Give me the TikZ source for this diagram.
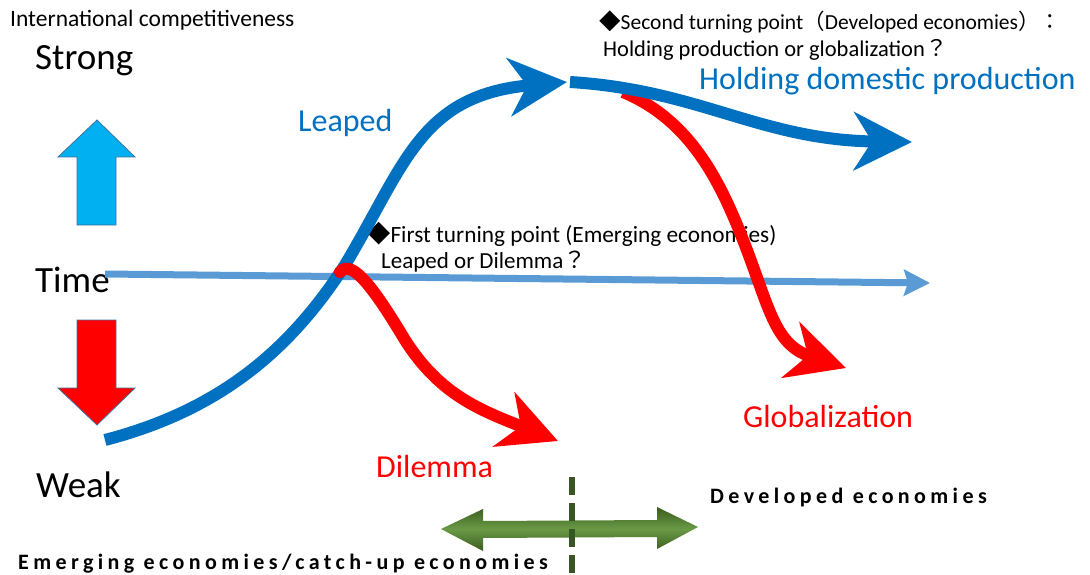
\documentclass[tikz,border=0pt]{standalone}
\usepackage{fontspec}
\setmainfont{Carlito}
\newfontfamily\cjk{Noto Sans CJK JP}
\newfontfamily\spaced[LetterSpace=20]{Carlito}
\usetikzlibrary{arrows.meta,positioning}

\definecolor{leapblue}{HTML}{0070C0}
\definecolor{timeblue}{HTML}{5B9BD5}
\definecolor{upblue}{HTML}{00B0F0}
\definecolor{edgeblue}{HTML}{41719C}
\definecolor{darkgreen}{HTML}{3B5C20}
\definecolor{lightgreen}{HTML}{6A9A45}
\definecolor{dashgreen}{HTML}{375623}
\newcommand{\txtsize}[1]{\fontsize{#1}{#1}\selectfont}

\begin{document}
\begin{tikzpicture}[x=1pt,y=-1pt,
    lbl/.style={inner sep=0pt,anchor=base west},
    bigtip/.style={-{Stealth[length=58pt,width=58pt,inset=18pt]}},
    curve/.style={line width=12pt}]
    \useasboundingbox (0,0) rectangle (1090,575);

    \draw[edgeblue,fill=upblue,line width=0.8pt] (77,225) -- (77,157) -- (58,157) -- (97,120) -- (135,157) -- (116,157) -- (116,225) -- cycle;
    \draw[edgeblue,fill=red,line width=0.8pt] (77,320) -- (77,388) -- (58,388) -- (97,425) -- (135,388) -- (116,388) -- (116,320) -- cycle;

    \node[lbl,font=\txtsize{23.5}] (axis) at (10,27) {International competitiveness};
    \node[lbl,font=\txtsize{37}] (strong) at (35,70) {Strong};
    \node[lbl,font=\txtsize{37}] (time) at (35,292) {Time};
    \node[lbl,font=\txtsize{37}] (weak) at (36,497) {Weak};

    \node[lbl,font=\txtsize{32},text=leapblue] (leaped) at (298,132) {Leaped};
    \node[lbl,font=\txtsize{32},text=leapblue] (holding) at (699,90) {Holding domestic production};
    \node[lbl,font=\txtsize{32},text=red] (dilemma) at (376,477) {Dilemma};
    \node[lbl,font=\txtsize{32},text=red] (global) at (743,427) {Globalization};

    \node[lbl,font=\txtsize{21.5}] (turn2a) at (599,30) {{\cjk ◆}Second turning point{\cjk （}Developed economies{\cjk ）：}};
    \node[lbl,font=\txtsize{22.5}] (turn2b) at (603,57) {Holding production or globalization{\cjk ？}};
    \node[lbl,font=\txtsize{23.3}] (turn1a) at (367,242) {{\cjk ◆}First turning point (Emerging economies)};
    \node[lbl,font=\txtsize{23}] (turn1b) at (381,268) {Leaped or Dilemma{\cjk ？}};

    \node[lbl,font=\spaced\bfseries\txtsize{22}] (developed) at (710,503) {Developed economies};
    \node[lbl,font=\spaced\bfseries\txtsize{22}] (emerging) at (18,569) {Emerging economies/catch-up economies};

    \coordinate (timeS) at (105,274);
    \coordinate (timeE) at (930,283);
    \coordinate (leapS) at (105,440);
    \coordinate (leapM) at (345,265);
    \coordinate (leapE) at (567,82);
    \coordinate (holdS) at (570,82);
    \coordinate (holdE) at (912,142);
    \coordinate (dilS) at (340,272);
    \coordinate (dilE) at (558,441);
    \coordinate (globS) at (623,92);
    \coordinate (globE) at (846,368);
    \coordinate (cutT) at (572,477);
    \coordinate (cutB) at (572,575);

    \draw[timeblue,line width=7pt,-{Stealth[length=26pt,width=26pt,inset=4pt]}] (timeS) -- (timeE);
    \draw[leapblue,curve,bigtip] (leapS) .. controls (220,410) and (290,350) .. (leapM) .. controls (405,165) and (420,95) .. (leapE);
    \draw[red,curve,line cap=round,bigtip] (dilS) .. controls (352,258) and (375,290) .. (405,340) .. controls (440,395) and (480,410) .. (dilE);
    \draw[red,curve,bigtip] (globS) .. controls (690,120) and (720,180) .. (745,245) .. controls (770,310) and (775,345) .. (globE);
    \draw[leapblue,curve,bigtip] (holdS) .. controls (700,90) and (760,140) .. (holdE);

    \shade[top color=darkgreen,bottom color=darkgreen,middle color=lightgreen] (441,529) -- (483,509) -- (483,521) -- (657,520) -- (657,507) -- (698,527) -- (657,549) -- (657,537) -- (483,538) -- (483,551) -- cycle;
    \draw[dashgreen,line width=6pt,dash pattern=on 18pt off 8pt] (cutT) -- (cutB);
\end{tikzpicture}
\end{document}
